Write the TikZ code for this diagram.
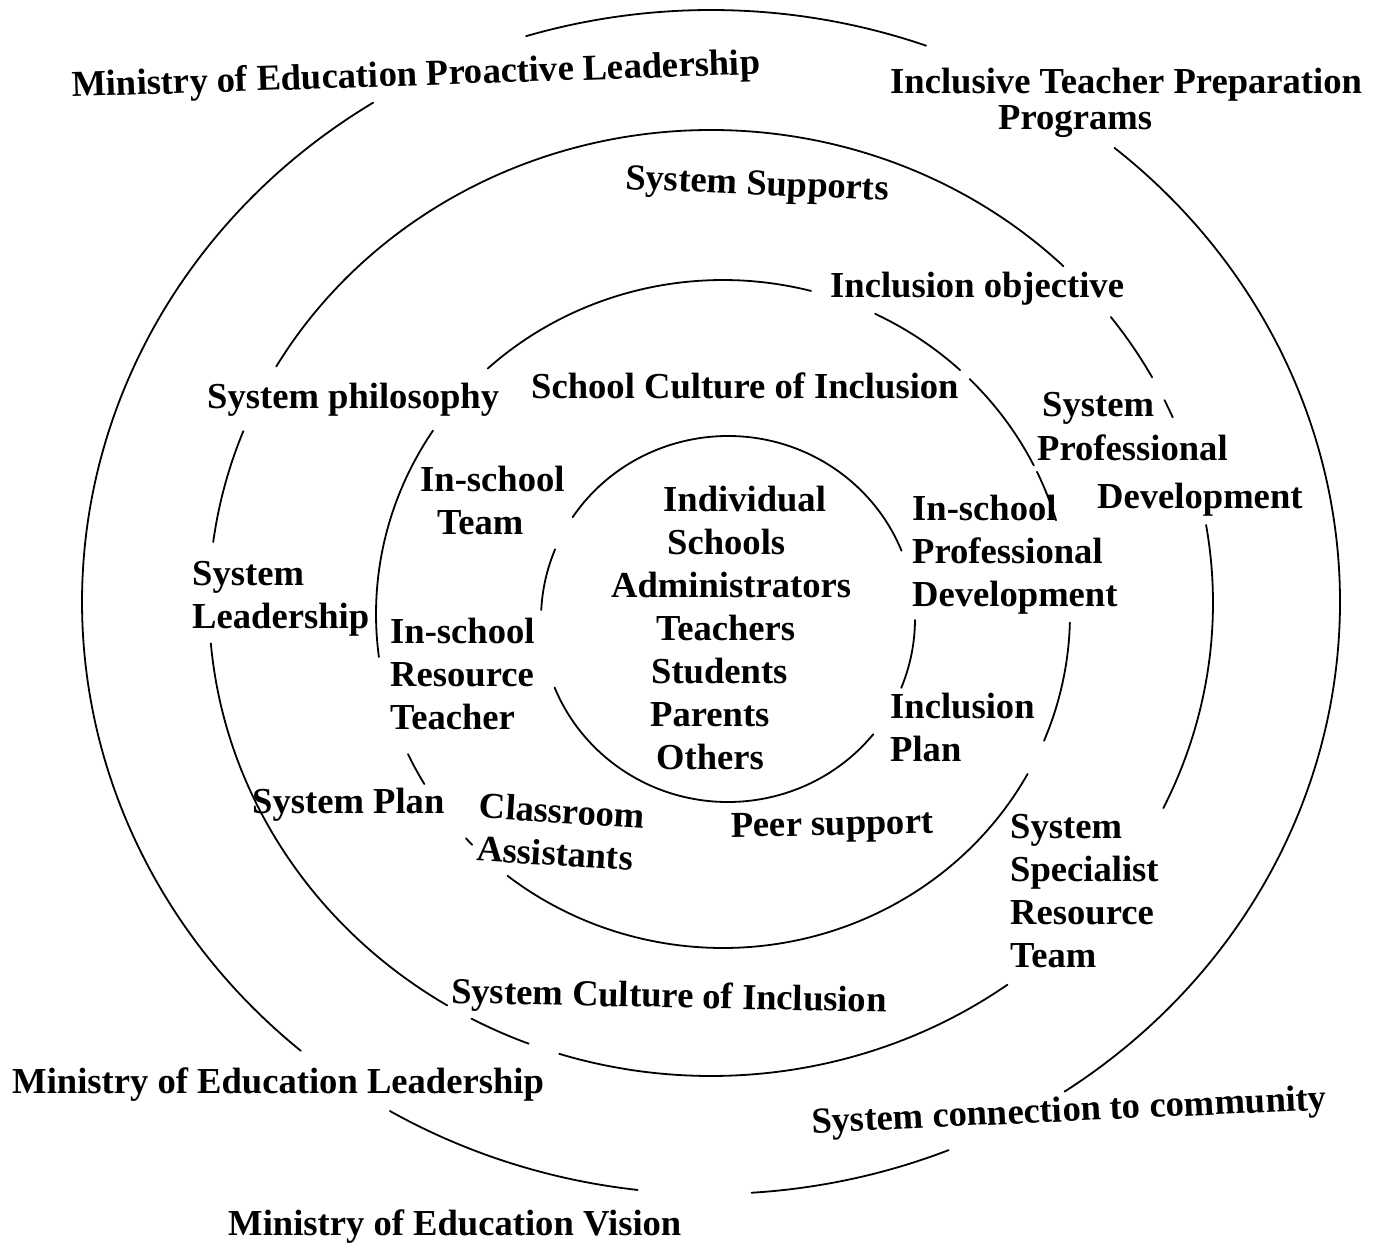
\documentclass[tikz,border=0pt]{standalone}
\usepackage{fontspec}
\setmainfont{Liberation Serif}
\newcommand\ringarc[5]{\draw[ring] ([shift={(#2:#4 and #5)}]#1) arc[start angle=#2, end angle=#3, x radius=#4, y radius=#5];}
\begin{document}
\begin{tikzpicture}[x=1pt,y=1pt,
  ring/.style={line width=1.8pt, line cap=round},
  lbl/.style={font=\fontsize{36.6pt}{43pt}\selectfont\bfseries, inner sep=0pt}]
\useasboundingbox (0,0) rectangle (1382,-1244);
% ring centres
\coordinate (c1) at (711,-602);
\coordinate (c2) at (711,-603);
\coordinate (c3) at (723,-614);
\coordinate (c4) at (728,-619);
% outer ring
\ringarc{c1}{107.1}{70}{629pt}{592pt}
\ringarc{c1}{50.1}{-55.8}{629pt}{592pt}
\ringarc{c1}{-67.8}{-86.3}{629pt}{592pt}
\ringarc{c1}{-96.7}{-120.7}{629pt}{592pt}
\ringarc{c1}{122.5}{229.3}{629pt}{592pt}
% second ring
\ringarc{c2}{150}{45.4}{502pt}{473pt}
\ringarc{c2}{37.2}{28.5}{502pt}{473pt}
\ringarc{c2}{25.4}{23.1}{502pt}{473pt}
\ringarc{c2}{9.5}{-25.7}{502pt}{473pt}
\ringarc{c2}{-53.8}{-107.6}{502pt}{473pt}
\ringarc{c2}{-111.3}{-118.5}{502pt}{473pt}
\ringarc{c2}{238.3}{184.9}{502pt}{473pt}
\ringarc{c2}{172.6}{158.7}{502pt}{473pt}
% third ring
\ringarc{c3}{132.7}{75.3}{347pt}{334pt}
\ringarc{c3}{64.0}{46.9}{347pt}{334pt}
\ringarc{c3}{44.7}{26.4}{347pt}{334pt}
\ringarc{c3}{25.2}{16.3}{347pt}{334pt}
\ringarc{c3}{-1.5}{-22.3}{347pt}{334pt}
\ringarc{c3}{-28.6}{-128.4}{347pt}{334pt}
\ringarc{c3}{-136.3}{-137.8}{347pt}{334pt}
\ringarc{c3}{-149.4}{-155.2}{347pt}{334pt}
\ringarc{c3}{146.7}{187.4}{347pt}{334pt}
% inner ring
\ringarc{c4}{146.2}{21.9}{187pt}{183pt}
\ringarc{c4}{-0.3}{-22.1}{187pt}{183pt}
\ringarc{c4}{-39}{-158}{187pt}{183pt}
\ringarc{c4}{177.2}{157.6}{187pt}{183pt}
% labels
\node[lbl, anchor=base west, rotate=1.9] (mepl) at (72,-97) {Ministry of Education Proactive Leadership};
\node[lbl, align=left, anchor=north west, font=\fontsize{36.6pt}{36pt}\selectfont\bfseries] (itp) at (890,-68) {Inclusive Teacher Preparation\\\hspace*{108pt}Programs};
\node[lbl, anchor=base west, rotate=-2.5] (ssup) at (625,-189) {System Supports};
\node[lbl, anchor=base west] (iobj) at (830,-297) {Inclusion objective};
\node[lbl, anchor=base west] (sphil) at (207,-408) {System philosophy};
\node[lbl, anchor=base west] (scult) at (531,-398) {School Culture of Inclusion};
\node[lbl, anchor=base west] (spd1) at (1042,-416) {System};
\node[lbl, anchor=base west] (spd2) at (1037,-460) {Professional};
\node[lbl, anchor=base west] (spd3) at (1097,-508) {Development};
\node[lbl, align=left, anchor=west] (ist) at (420,-500) {In-school\\\hspace*{17pt}Team};
\node[lbl, align=left, anchor=west] (sl) at (192,-599) {System\\Leadership};
\node[lbl, align=left, anchor=west] (core) at (611,-628) {\hspace*{52pt}Individual\\\hspace*{56pt}Schools\\Administrators\\\hspace*{45pt}Teachers\\\hspace*{40pt}Students\\\hspace*{39pt}Parents\\\hspace*{45pt}Others};
\node[lbl, align=left, anchor=west] (ispd) at (912,-555) {In-school\\Professional\\Development};
\node[lbl, align=left, anchor=west] (isrt) at (390,-674) {In-school\\Resource\\Teacher};
\node[lbl, align=left, anchor=west] (ip) at (890,-727) {Inclusion\\Plan};
\node[lbl, anchor=base west] (splan) at (252,-813) {System Plan};
\node[lbl, align=left, rotate=-3.5] (ca) at (561,-832) {Classroom\\Assistants};
\node[lbl, anchor=base west, rotate=1] (peer) at (731,-837) {Peer support};
\node[lbl, align=left, anchor=west] (ssrt) at (1010,-891) {System\\Specialist\\Resource\\Team};
\node[lbl, anchor=base west, rotate=-1.2] (scoi) at (451,-1003) {System Culture of Inclusion};
\node[lbl, anchor=base west] (mel) at (12,-1093) {Ministry of Education Leadership};
\node[lbl, anchor=base west, rotate=2.6] (scc) at (812,-1133) {System connection to community};
\node[lbl, anchor=base west] (mev) at (228,-1235) {Ministry of Education Vision};
\end{tikzpicture}
\end{document}
